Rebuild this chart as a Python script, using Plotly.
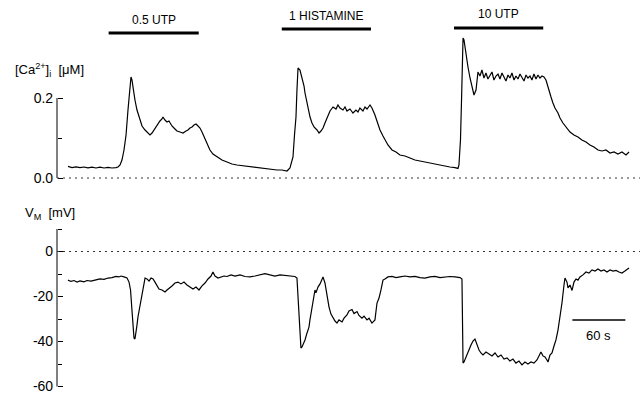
import plotly.graph_objects as go

# ---------------- data (time in s, [Ca2+]i in uM, Vm in mV) ----------------
t_ca = [0, 4.5, 9.1, 13.6, 18.1, 22.6, 27.2, 31.7, 36.2, 40.8, 45.3, 49.8, 54.3, 56.6,
        58.9, 61.1, 63.4, 65.7, 67.9, 69.6, 71.3, 72.4, 73.6, 75.8, 78.1, 81.5, 83.8, 87.2,
        90.6, 92.8, 95.1, 98.5, 101.9, 104.1, 106.4, 107.5, 109.8, 112.1, 114.3, 117.7,
        121.1, 123.4, 126.8, 130.2, 133.6, 135.8, 138.1, 140.4, 142.6, 144.9, 147.2, 149.4,
        151.7, 155.1, 158.5, 160.7, 164.1, 168.7, 174.3, 180.0, 185.6, 191.3, 197.0, 202.6,
        208.3, 214.0, 219.6, 225.3, 230.9, 236.6, 242.2, 247.9, 251.3, 253.6, 254.7, 256.4,
        258.1, 259.2, 260.4, 262.6, 264.9, 267.2, 268.3, 270.6, 271.7, 274.0, 276.2, 278.5,
        281.9, 284.2, 286.4, 288.7, 290.9, 294.3, 296.6, 300.0, 303.4, 305.6, 307.9, 311.3,
        313.6, 315.8, 319.2, 322.6, 326.0, 328.3, 330.5, 333.9, 336.2, 338.5, 341.9, 344.1,
        347.5, 350.9, 353.2, 356.6, 358.8, 362.2, 366.8, 371.3, 375.8, 381.5, 387.1, 392.8,
        398.5, 404.1, 409.8, 415.4, 421.1, 426.8, 432.4, 438.1, 441.5, 442.6, 444.3, 445.5,
        446.6, 447.2, 448.3, 449.4, 450.5, 452.8, 455.1, 456.2, 458.5, 459.6, 461.9, 463.0,
        464.1, 466.4, 468.6, 470.9, 473.2, 475.4, 477.7, 480.0, 482.2, 484.5, 486.8, 489.0,
        491.3, 493.6, 495.8, 498.1, 500.3, 502.6, 504.9, 507.1, 509.4, 511.7, 513.9, 516.2,
        518.5, 520.7, 523.0, 525.2, 527.5, 529.8, 532.0, 534.3, 536.6, 538.8, 541.1, 543.4,
        544.5, 546.8, 549.0, 551.3, 554.7, 557.0, 560.3, 563.7, 568.3, 572.8, 577.3, 581.8,
        586.4, 590.9, 595.4, 600.0, 604.5, 609.0, 613.6, 618.1, 622.6, 627.1, 631.7, 635.1]
ca = [0.029, 0.026, 0.028, 0.026, 0.0275, 0.0255, 0.027, 0.025, 0.027, 0.025, 0.0265, 0.025,
      0.026, 0.0275, 0.0325, 0.045, 0.07, 0.1075, 0.17, 0.22, 0.2525, 0.245, 0.225, 0.195,
      0.17, 0.145, 0.13, 0.12, 0.1125, 0.1075, 0.1125, 0.125, 0.135, 0.1425, 0.1475, 0.1525,
      0.145, 0.14, 0.1425, 0.13, 0.1225, 0.1175, 0.115, 0.1125, 0.1175, 0.12, 0.125, 0.1275,
      0.1325, 0.135, 0.13, 0.125, 0.115, 0.0975, 0.08, 0.07, 0.06, 0.0525, 0.045, 0.04,
      0.035, 0.0325, 0.031, 0.029, 0.0275, 0.026, 0.025, 0.0225, 0.021, 0.02, 0.02, 0.0175,
      0.025, 0.04, 0.0525, 0.1075, 0.1525, 0.22, 0.275, 0.27, 0.2525, 0.23, 0.2125, 0.1875,
      0.17, 0.1525, 0.1375, 0.1275, 0.12, 0.1125, 0.1175, 0.125, 0.1375, 0.1575, 0.1675,
      0.1775, 0.1725, 0.1825, 0.175, 0.17, 0.1775, 0.1675, 0.1725, 0.1625, 0.17, 0.165,
      0.175, 0.1675, 0.1775, 0.1725, 0.1825, 0.175, 0.1575, 0.135, 0.12, 0.105, 0.095,
      0.0825, 0.07, 0.065, 0.0575, 0.055, 0.05, 0.045, 0.0425, 0.04, 0.036, 0.035, 0.031,
      0.03, 0.0275, 0.026, 0.024, 0.0325, 0.095, 0.195, 0.3075, 0.35, 0.345, 0.3275, 0.3075,
      0.2775, 0.25, 0.2375, 0.215, 0.2075, 0.22, 0.24, 0.265, 0.255, 0.27, 0.25, 0.2625,
      0.2475, 0.2575, 0.265, 0.245, 0.255, 0.26, 0.2475, 0.2625, 0.2525, 0.2425, 0.2575,
      0.25, 0.2625, 0.245, 0.255, 0.2475, 0.26, 0.25, 0.2425, 0.2575, 0.25, 0.255, 0.245,
      0.26, 0.2475, 0.2575, 0.25, 0.255, 0.2525, 0.245, 0.23, 0.22, 0.2025, 0.1875, 0.175,
      0.1625, 0.15, 0.1375, 0.1275, 0.115, 0.1075, 0.1025, 0.095, 0.09, 0.0825, 0.0775,
      0.07, 0.0675, 0.07, 0.0625, 0.065, 0.06, 0.065, 0.0575, 0.065]

t_vm = [0, 3.4, 6.8, 10.2, 13.6, 18.1, 21.5, 26.0, 30.6, 36.2, 40.8, 45.3, 49.8, 54.3, 57.7,
        60.0, 63.4, 66.8, 69.1, 70.8, 72.4, 73.6, 74.7, 75.8, 77.0, 78.1, 79.2, 81.5, 83.8,
        86.0, 87.2, 89.4, 91.7, 94.0, 96.3, 98.5, 100.8, 103.0, 106.4, 109.8, 112.1, 115.5,
        117.7, 121.1, 124.5, 127.9, 131.3, 134.7, 138.1, 141.5, 144.9, 148.3, 151.7, 155.1,
        158.5, 161.9, 164.1, 166.4, 169.8, 173.2, 176.6, 180.0, 184.5, 189.1, 194.7, 200.4,
        206.0, 211.7, 217.4, 223.0, 228.7, 234.3, 240.0, 245.7, 251.3, 256.9, 259.2, 260.4,
        261.5, 262.6, 263.7, 264.9, 266.0, 268.3, 270.6, 272.8, 273.9, 276.2, 278.5, 279.6,
        280.7, 283.0, 285.3, 286.4, 287.5, 288.7, 290.9, 292.1, 294.3, 295.5, 297.7, 300.0,
        302.3, 304.5, 306.8, 310.2, 312.5, 315.8, 318.1, 321.5, 323.8, 327.2, 329.4, 332.8,
        335.1, 338.5, 340.8, 344.1, 346.4, 347.5, 349.8, 352.1, 354.3, 356.6, 358.8, 362.2,
        366.8, 371.3, 375.8, 381.5, 387.1, 392.8, 398.5, 404.1, 409.8, 415.4, 421.1, 426.8,
        432.4, 438.1, 443.8, 446.0, 446.6, 447.2, 448.3, 449.4, 451.7, 453.9, 456.2, 458.5,
        460.7, 463.0, 465.3, 467.5, 469.8, 473.2, 476.6, 480.0, 483.4, 486.8, 490.2, 493.6,
        497.0, 500.3, 503.7, 507.1, 510.5, 513.9, 517.3, 520.7, 524.1, 527.5, 530.9, 533.2,
        535.4, 537.7, 540.0, 542.2, 543.4, 545.6, 547.9, 550.2, 552.4, 554.7, 557.0, 559.2,
        561.5, 562.6, 564.9, 566.0, 568.3, 570.6, 572.8, 575.1, 577.3, 579.6, 583.0, 586.4,
        589.8, 593.2, 596.6, 600.0, 603.4, 606.8, 610.2, 613.6, 617.0, 620.4, 623.8, 627.1,
        630.5, 635.1]
vm = [-12.7, -13.3, -12.9, -13.6, -13.1, -13.5, -12.9, -13.2, -12.7, -12.2, -12.4, -11.8,
      -11.6, -11.1, -11.3, -10.9, -11.3, -11.8, -13.6, -17.1, -26.0, -34.9, -38.4, -38.9,
      -36.2, -32.7, -29.1, -24.2, -20.2, -14.9, -11.8, -12.2, -13.1, -11.8, -12.2, -13.6,
      -14.9, -16.7, -17.1, -18.0, -17.1, -16.2, -15.3, -14.0, -13.6, -14.4, -13.6, -14.9,
      -15.8, -16.7, -15.8, -17.1, -15.3, -14.0, -12.2, -10.9, -9.1, -10.9, -11.8, -11.3,
      -10.9, -11.1, -10.4, -10.9, -10.4, -11.1, -11.3, -10.9, -10.4, -9.8, -10.4, -10.9,
      -10.4, -10.7, -10.9, -11.1, -11.8, -21.6, -30.4, -39.3, -42.9, -42.4, -41.6, -39.3,
      -36.2, -33.6, -30.4, -24.7, -20.2, -17.1, -18.4, -15.8, -14.4, -13.1, -12.2, -11.3,
      -14.0, -17.1, -21.6, -24.7, -27.8, -29.6, -30.9, -31.8, -30.4, -31.3, -29.6, -28.2,
      -26.4, -25.8, -27.6, -26.7, -28.4, -29.6, -28.7, -30.4, -29.6, -31.8, -30.9, -30.4,
      -22.9, -20.7, -17.1, -12.7, -12.2, -11.3, -11.1, -11.6, -11.3, -10.9, -11.3, -11.1,
      -11.6, -11.8, -11.3, -11.1, -11.6, -11.3, -11.1, -11.3, -11.6, -12.2, -30.4, -49.6,
      -49.1, -48.2, -46.0, -43.8, -41.6, -39.8, -38.9, -41.6, -43.8, -45.1, -46.0, -44.7,
      -45.6, -46.4, -45.1, -46.9, -46.0, -47.8, -47.3, -48.7, -47.8, -49.6, -48.7, -50.4,
      -49.1, -50.0, -49.1, -49.6, -48.2, -46.4, -44.7, -46.4, -46.9, -48.2, -49.1, -46.0,
      -45.1, -42.0, -39.3, -34.9, -29.6, -22.9, -14.9, -11.8, -13.6, -16.2, -14.9, -17.3,
      -13.6, -12.2, -12.7, -11.3, -10.4, -9.1, -9.6, -8.2, -8.7, -7.8, -8.7, -8.2, -9.1,
      -8.2, -8.7, -8.4, -9.1, -9.6, -8.7, -7.3]

stim_labels = ["0.5 UTP", "1 HISTAMINE", "10 UTP"]
stim_start = [46, 242, 437]
stim_end = [148, 343, 538]

ca_ticks = [0.0, 0.2]
ca_ticktext = ["0.0", "0.2"]
ca_minor_ticks = [0.1]
vm_ticks = [0, -20, -40, -60]
vm_ticktext = ["0", "-20", "-40", "-60"]
vm_minor_ticks = [10, -10, -30, -50]
vm_axis_top = 10

scale_bar_s = 60
scale_bar_start = 571

# ---------------- layout helpers (pixel geometry) ----------------
W, H = 640, 396
FONT = "Liberation Sans, Arial, Helvetica, sans-serif"


def px(x):
    return x / W


def py(y):
    return 1 - y / H


# time axis: 60 s = 53 px, trace starts at px 68
T_PER_PX = 60 / 53
x_range = [(0 - 68) * T_PER_PX, (W - 68) * T_PER_PX]
# Ca axis: 0.0 at py 178, 0.2 at py 98
ca_range = [(178 - 190) / 400, (178 - 30) / 400]
# Vm axis: 0 at py 251.5, -20 at py 296.5
vm_range = [(251.5 - 395) / 2.25, (251.5 - 215) / 2.25]
AXIS_X = 57
PAD = "\u00a0"  # small extra gap between tick labels and axis

fig = go.Figure()
fig.add_trace(go.Scatter(x=t_ca, y=ca, mode="lines", xaxis="x", yaxis="y",
                         line=dict(color="black", width=1.2), showlegend=False,
                         hoverinfo="skip"))
fig.add_trace(go.Scatter(x=t_vm, y=vm, mode="lines", xaxis="x", yaxis="y2",
                         line=dict(color="black", width=1.2), showlegend=False,
                         hoverinfo="skip"))

common_y = dict(anchor="free", position=px(AXIS_X), showgrid=False, zeroline=False,
                showline=False, ticks="inside", ticklen=5, tickwidth=1,
                tickcolor="black", tickfont=dict(family=FONT, size=14, color="black"),
                fixedrange=True)

shapes = []
# axis lines
shapes.append(dict(type="line", xref="paper", yref="y", x0=px(AXIS_X), x1=px(AXIS_X),
                   y0=min(ca_ticks), y1=max(ca_ticks), line=dict(color="black", width=1)))
shapes.append(dict(type="line", xref="paper", yref="y2", x0=px(AXIS_X), x1=px(AXIS_X),
                   y0=min(vm_ticks), y1=vm_axis_top, line=dict(color="black", width=1)))
# dotted zero lines
for yr in ("y", "y2"):
    shapes.append(dict(type="line", xref="paper", yref=yr, x0=px(AXIS_X), x1=1,
                       y0=0, y1=0, line=dict(color="#333333", width=1, dash="2px,4px")))
# stimulus bars
bar_y = [33, 29, 28]
label_y = [20, 16, 14]
annotations = []
for lab, s, e, by, ly in zip(stim_labels, stim_start, stim_end, bar_y, label_y):
    shapes.append(dict(type="line", xref="x", yref="paper", x0=s, x1=e,
                       y0=py(by), y1=py(by), line=dict(color="black", width=3)))
    annotations.append(dict(text=lab, xref="x", yref="paper", x=(s + e) / 2, y=py(ly),
                            showarrow=False, xanchor="center", yanchor="middle",
                            font=dict(family=FONT, size=12, color="black")))
# time scale bar
shapes.append(dict(type="line", xref="x", yref="paper", x0=scale_bar_start,
                   x1=scale_bar_start + scale_bar_s, y0=py(320), y1=py(320),
                   line=dict(color="black", width=1.5)))
annotations.append(dict(text=f"{scale_bar_s} s", xref="x", yref="paper",
                        x=scale_bar_start + scale_bar_s / 2, y=py(335), showarrow=False,
                        xanchor="center", yanchor="middle",
                        font=dict(family=FONT, size=13, color="black")))
# axis titles
annotations.append(dict(text="[Ca<sup>2+</sup>]<sub>i</sub>  [μM]", xref="paper",
                        yref="paper", x=px(13), y=py(70), showarrow=False,
                        xanchor="left", yanchor="middle",
                        font=dict(family=FONT, size=13, color="black")))
annotations.append(dict(text="V<sub>M</sub>  [mV]", xref="paper", yref="paper",
                        x=px(23), y=py(213), showarrow=False, xanchor="left",
                        yanchor="middle", font=dict(family=FONT, size=13, color="black")))

minor_style = dict(ticks="inside", ticklen=4, tickwidth=1, tickcolor="black",
                   showgrid=False)

fig.update_layout(
    width=W, height=H, margin=dict(l=0, r=0, t=0, b=0),
    paper_bgcolor="white", plot_bgcolor="white",
    xaxis=dict(domain=[0, 1], range=x_range, visible=False, fixedrange=True),
    yaxis=dict(domain=[py(190), py(30)], range=ca_range, tickmode="array",
               tickvals=ca_ticks, ticktext=[t + PAD for t in ca_ticktext],
               minor=dict(tickmode="array", tickvals=ca_minor_ticks, **minor_style),
               **common_y),
    yaxis2=dict(domain=[py(395), py(215)], range=vm_range, tickmode="array",
                tickvals=vm_ticks, ticktext=[t + PAD for t in vm_ticktext],
                minor=dict(tickmode="array", tickvals=vm_minor_ticks, **minor_style),
                **common_y),
    shapes=shapes, annotations=annotations, showlegend=False,
)

fig.write_html("out.html", config={"displayModeBar": False})
